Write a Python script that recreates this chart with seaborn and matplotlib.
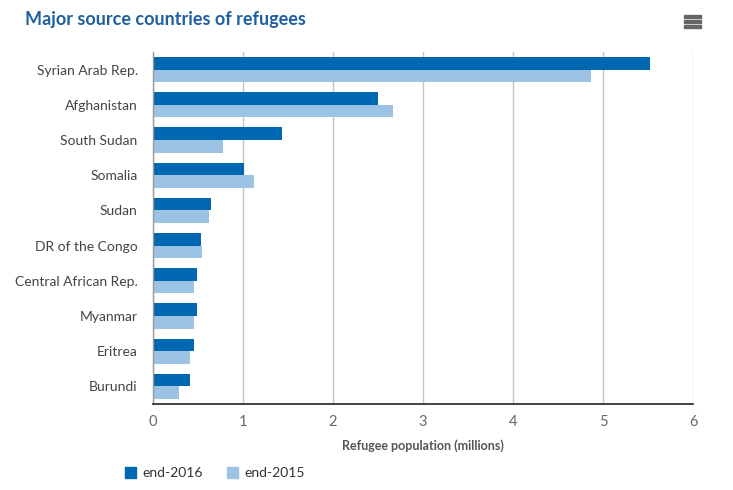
import matplotlib
matplotlib.use("Agg")
import matplotlib.pyplot as plt
import seaborn as sns
import pandas as pd
from matplotlib.patches import Rectangle

countries = ["Syrian Arab Rep.", "Afghanistan", "South Sudan", "Somalia", "Sudan",
             "DR of the Congo", "Central African Rep.", "Myanmar", "Eritrea", "Burundi"]
end_2016 = [5.52, 2.50, 1.43, 1.01, 0.64, 0.53, 0.49, 0.49, 0.45, 0.41]
end_2015 = [4.87, 2.67, 0.78, 1.12, 0.62, 0.54, 0.46, 0.45, 0.41, 0.29]
series = ["end-2016", "end-2015"]
colors = ["#0067b1", "#9cc3e4"]
xticks = [0, 1, 2, 3, 4, 5, 6]

df = pd.DataFrame({
    "country": countries * 2,
    "value": end_2016 + end_2015,
    "series": [series[0]] * len(countries) + [series[1]] * len(countries),
})

sns.set_style("white")
plt.rcParams["font.family"] = ["Lato", "DejaVu Sans"]

fig = plt.figure(figsize=(7.33, 4.90), dpi=100)
ax = fig.add_axes([153 / 733, 1 - 404 / 490, 540 / 733, 352 / 490])

sns.barplot(data=df, y="country", x="value", hue="series", order=countries,
            hue_order=series, palette=colors, width=0.72, saturation=1,
            orient="h", ax=ax, legend=False, edgecolor="none", linewidth=0)

ax.set_xlim(0, 6)
ax.set_ylim(len(countries) - 0.5, -0.5)
ax.set_xticks(xticks)
ax.set_xticklabels([str(t) for t in xticks])
ax.xaxis.grid(True, color="#c4c4c4", linewidth=1)
ax.yaxis.grid(False)
ax.set_axisbelow(True)
for s in ["top", "right"]:
    ax.spines[s].set_visible(False)
ax.spines["bottom"].set_color("#222222")
ax.spines["bottom"].set_linewidth(1.2)
ax.spines["left"].set_color("#999999")
ax.spines["left"].set_linewidth(1)
ax.tick_params(axis="x", length=0, labelsize=10.5, labelcolor="#666666", pad=8)
ax.tick_params(axis="y", length=0, labelsize=10, labelcolor="#444444", pad=11)
ax.set_ylabel("")
ax.set_xlabel("Refugee population (millions)", fontsize=9, fontweight="bold",
              color="#555555", labelpad=7)

fig.text(25 / 733, 1 - 20 / 490, "Major source countries of refugees", fontsize=13,
         fontweight="bold", color="#1f5fa0", va="center", ha="left")

# menu icon
for yy in [17, 22, 27]:
    fig.patches.append(Rectangle((684 / 733, 1 - (yy + 1.5) / 490), 17 / 733, 3 / 490,
                                 transform=fig.transFigure, color="#666666"))

# legend
handles = [Rectangle((0, 0), 1, 1, color=c) for c in colors]
fig.legend(handles, series, loc="center left", bbox_to_anchor=(112 / 733, 1 - 473 / 490),
           ncol=2, frameon=False, fontsize=10, handlelength=0.8, handleheight=0.8,
           columnspacing=1.7, handletextpad=0.5, labelcolor="#333333")

fig.savefig("out.png", dpi=100, facecolor="white")
